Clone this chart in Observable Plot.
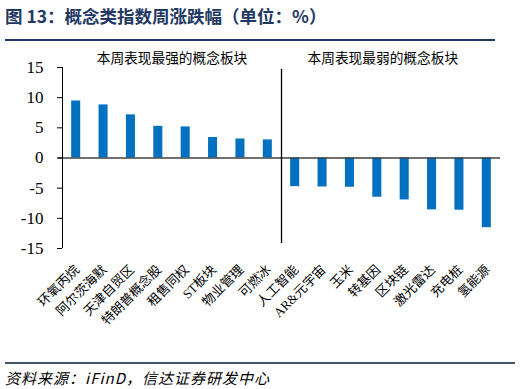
<!DOCTYPE html>
<html><head><meta charset="utf-8">
<script src="https://cdn.jsdelivr.net/npm/d3@7"></script>
<script src="https://cdn.jsdelivr.net/npm/@observablehq/plot@0.6"></script>
<style>
body{margin:0;background:#fff;}
#wrap{position:relative;width:521px;height:389px;overflow:hidden;font-family:"Noto Sans CJK SC",sans-serif;}
#title{position:absolute;left:5px;top:3px;font-size:17.5px;font-weight:bold;color:#1f3864;white-space:nowrap;}
#rule1{position:absolute;left:5px;top:39px;width:490px;height:2px;background:#1f3864;}
#rule2{position:absolute;left:5px;top:362px;width:510px;height:2px;background:#44546a;}
#foot{position:absolute;left:5px;top:367px;font-size:15px;font-style:italic;color:#000;white-space:nowrap;letter-spacing:1px;}
#chart{position:absolute;left:0;top:0;}
</style></head>
<body>
<div id="wrap">
<div id="chart"></div>
<div id="title">图 13：概念类指数周涨跌幅（单位：%）</div>
<div id="rule1"></div>
<div id="rule2"></div>
<div id="foot">资料来源：iFinD，信达证券研发中心</div>
</div>
<script>
const categories = ["环氧丙烷","阿尔茨海默","天津自贸区","特朗普概念股","租售同权","ST板块","物业管理","可燃冰","人工智能","AR&元宇宙","玉米","转基因","区块链","激光雷达","充电桩","氢能源"];
const values = [9.45, 8.8, 7.15, 5.25, 5.15, 3.4, 3.15, 3.0, -4.75, -4.8, -4.85, -6.5, -6.95, -8.6, -8.65, -11.55];
const yTicks = [-15, -10, -5, 0, 5, 10, 15];
const groupLabels = ["本周表现最强的概念板块", "本周表现最弱的概念板块"];
const groupCenters = [3.5, 11.2];
const dividerAt = 7.5;

const data = categories.map((c, i) => ({i, c, v: values[i]}));
const barHalf = 0.165;

const chart = Plot.plot({
  width: 521, height: 389,
  marginTop: 67, marginBottom: 141, marginLeft: 62, marginRight: 21,
  x: {type: "linear", domain: [-0.5, 15.5], axis: null},
  y: {domain: [-15, 15], axis: null, label: null},
  style: {fontFamily: "'Liberation Serif','Noto Sans CJK SC',serif", background: "#fff"},
  marks: [
    Plot.rectY(data, {x1: d => d.i - barHalf, x2: d => d.i + barHalf, y1: 0, y2: "v", fill: "#0070C0"}),
    Plot.ruleY([0], {x1: -0.65, x2: 15.5, stroke: "#404040", strokeWidth: 1.5}),
    Plot.ruleX([-0.5], {y1: -15, y2: 15, stroke: "#000", strokeWidth: 1}),
    Plot.ruleX([dividerAt], {y1: 14.7, y2: -14.2, stroke: "#000", strokeWidth: 1.3}),
    Plot.axisY({ticks: yTicks, label: null, tickSize: 5, tickPadding: 14, tickFormat: d => String(d), fontSize: 17, fontFamily: "'Liberation Serif',serif", color: "#000", stroke: "#000"}),
    Plot.text(data, {x: "i", text: "c", frameAnchor: "bottom", dy: 19, dx: 1, rotate: -45, textAnchor: "end", lineAnchor: "middle", fontSize: 13, fill: "#000"}),
    Plot.text(groupLabels, {x: (d, k) => groupCenters[k], text: d => d, frameAnchor: "top", lineAnchor: "middle", dy: -9, fontSize: 13.7, fill: "#000", fontFamily: "'Noto Sans CJK SC',sans-serif"})
  ]
});
document.getElementById("chart").appendChild(chart);
</script>
</body></html>
